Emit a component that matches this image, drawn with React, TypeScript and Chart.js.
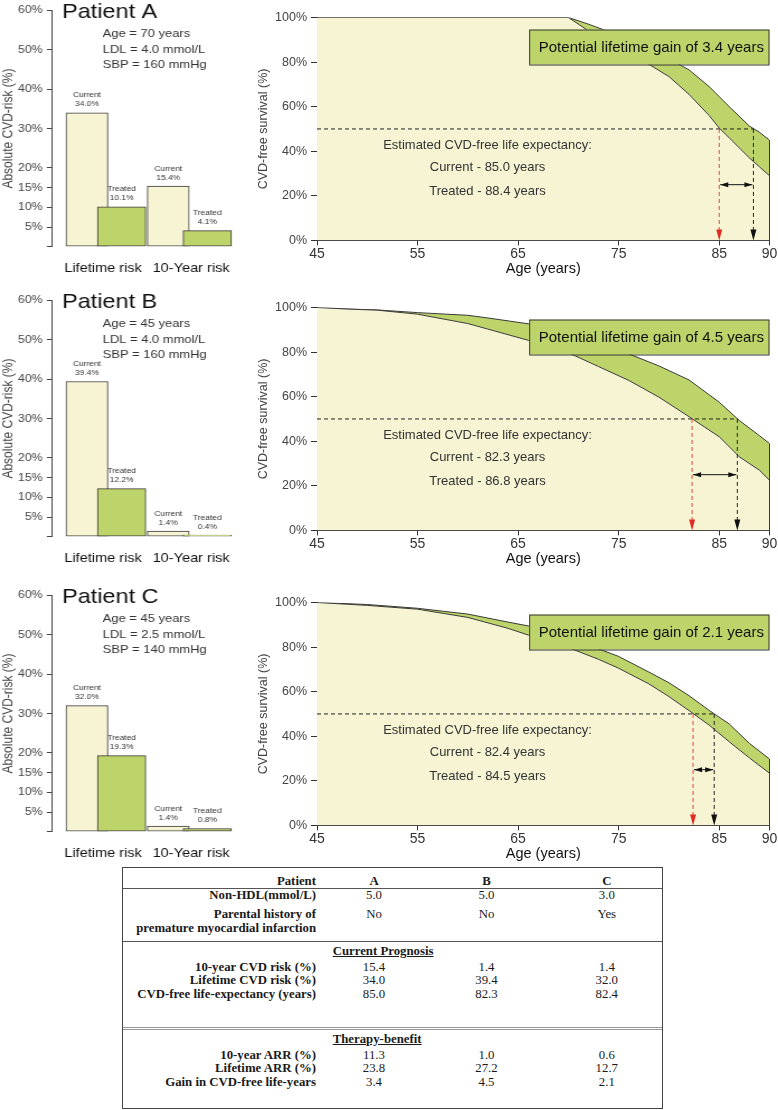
import React, { useEffect, useRef } from 'react';
import { Chart, registerables } from 'chart.js';

Chart.register(...registerables);

const FONT = '"Liberation Sans", Arial, Helvetica, sans-serif';
const SERIF = '"Liberation Serif", "Times New Roman", serif';
const CREAM = '#F7F4D4';
const GREEN = '#BCD46A';
const EDGE = '#3a3a3a';

// ---------- patient info ----------
const patientNames = ['A', 'B', 'C'];
const patientAge = [70, 45, 45];
const patientLDL = ['4.0', '4.0', '2.5'];
const patientSBP = [160, 160, 140];

// ---------- bar charts (absolute CVD risk, %) ----------
const riskCategories = ['Lifetime risk', '10-Year risk'];
const riskTicks = [0, 5, 10, 15, 20, 30, 40, 50, 60];
const currentRiskA = [34.0, 15.4];
const treatedRiskA = [10.1, 4.1];
const currentRiskB = [39.4, 1.4];
const treatedRiskB = [12.2, 0.4];
const currentRiskC = [32.0, 1.4];
const treatedRiskC = [19.3, 0.8];
const currentRisk = [currentRiskA, currentRiskB, currentRiskC];
const treatedRisk = [treatedRiskA, treatedRiskB, treatedRiskC];

// ---------- survival curves (CVD-free survival, %) ----------
const survTicksX = [45, 55, 65, 75, 85, 90];
const agesA = [45, 70, 72, 75, 78, 80, 82, 84, 85, 86, 88, 89, 90];
const currentSurvA = [100, 100, 94, 86.5, 79, 73.5, 65.5, 56, 50.4, 46, 37, 33, 29];
const treatedSurvA = [100, 100, 97, 92, 86, 81.5, 76.5, 69, 64.5, 60, 51.3, 48.5, 45];
const agesB = [45, 48, 51, 55, 60, 62, 66, 70, 73, 76, 79, 82, 85, 87, 89, 90];
const currentSurvB = [100, 99.3, 98.8, 97.0, 92.8, 90.3, 85.3, 79.7, 73.5, 67.3, 59.8, 51, 42, 33, 27, 22.5];
const treatedSurvB = [100, 99.3, 98.9, 97.7, 96.5, 95.3, 92.7, 88.5, 84, 79.2, 73.8, 67.5, 57.5, 49.3, 42.5, 39];
const agesC = [45, 50, 55, 60, 64, 66, 70, 73, 75, 78, 80, 82, 84, 86, 88, 90];
const currentSurvC = [100, 98.7, 97.0, 93.3, 88.4, 85.4, 79.8, 74.5, 70.5, 63.5, 57.8, 51.5, 45, 37.5, 30.3, 23.4];
const treatedSurvC = [100, 99.1, 97.4, 94.8, 91.2, 89.5, 84, 79.2, 75.8, 68.8, 64, 58.2, 51.6, 45.5, 36.8, 29.8];
const survAges = [agesA, agesB, agesC];
const survCurrent = [currentSurvA, currentSurvB, currentSurvC];
const survTreated = [treatedSurvA, treatedSurvB, treatedSurvC];
const expectCurrent = [85.0, 82.3, 82.4];
const expectTreated = [88.4, 86.8, 84.5];
const lifeGain = [3.4, 4.5, 2.1];

// ---------- table ----------
const nonHdl = ['5.0', '5.0', '3.0'];
const parentalHistory = ['No', 'No', 'Yes'];
const tenYearRisk = ['15.4', '1.4', '1.4'];
const lifetimeRisk = ['34.0', '39.4', '32.0'];
const cvdFreeLE = ['85.0', '82.3', '82.4'];
const tenYearARR = ['11.3', '1.0', '0.6'];
const lifetimeARR = ['23.8', '27.2', '12.7'];
const gainYears = ['3.4', '4.5', '2.1'];

const ROW_TOPS = [0, 290, 585];
const S = 1.12; // horizontal stretch of the bar panels

function RiskChart({ idx }: { idx: number }) {
  const ref = useRef<HTMLCanvasElement>(null);
  useEffect(() => {
    const cur = currentRisk[idx];
    const trt = treatedRisk[idx];
    const labelPlugin = {
      id: 'barLabels' + idx,
      afterDatasetsDraw(chart: any) {
        const ctx = chart.ctx;
        ctx.save();
        ctx.fillStyle = '#333';
        ctx.font = `7.5px ${FONT}`;
        ctx.textAlign = 'center';
        ctx.textBaseline = 'middle';
        chart.data.datasets.forEach((ds: any, di: number) => {
          const meta = chart.getDatasetMeta(di);
          meta.data.forEach((el: any, i: number) => {
            const v = ds.data[i].y;
            ctx.fillText(ds.label, el.x, el.y - 17.5);
            ctx.fillText(v.toFixed(1) + '%', el.x, el.y - 8.5);
          });
        });
        ctx.textAlign = 'left';
        ctx.textBaseline = 'alphabetic';
        ctx.fillStyle = '#111';
        ctx.font = `21px ${FONT}`;
        ctx.fillText('Patient ' + patientNames[idx], 55.4, 18);
        ctx.fillStyle = '#333';
        ctx.font = `11.6px ${FONT}`;
        ctx.fillText(`Age = ${patientAge[idx]} years`, 91.7, 37.3);
        ctx.fillText(`LDL = ${patientLDL[idx]} mmol/L`, 91.7, 53);
        ctx.fillText(`SBP = ${patientSBP[idx]} mmHg`, 91.7, 68.3);
        ctx.restore();
      },
    };
    const chart = new Chart(ref.current as HTMLCanvasElement, {
      type: 'bar',
      data: {
        datasets: [
          {
            label: 'Treated',
            data: trt.map((y, i) => ({ x: i, y })),
            xAxisID: 'xT',
            backgroundColor: GREEN,
            borderColor: EDGE,
            borderWidth: 1,
            borderSkipped: false,
            grouped: false,
            barThickness: 43.3,
            maxBarThickness: 43.3,
            order: 0,
          } as any,
          {
            label: 'Current',
            data: cur.map((y, i) => ({ x: i, y })),
            xAxisID: 'x',
            backgroundColor: CREAM,
            borderColor: EDGE,
            borderWidth: 1,
            borderSkipped: false,
            grouped: false,
            barThickness: 37.5,
            maxBarThickness: 37.5,
            order: 1,
          } as any,
        ],
      },
      options: {
        responsive: false,
        animation: false,
        devicePixelRatio: 1,
        events: [],
        layout: { padding: { top: 10, left: 0, right: 10.1, bottom: 0 } },
        plugins: { legend: { display: false }, tooltip: { enabled: false } },
        scales: {
          x: {
            type: 'linear',
            min: -0.4305,
            max: 1.8047,
            offset: false,
            grid: { display: false },
            border: { display: false },
            afterBuildTicks: (s: any) => {
              s.ticks = [{ value: 0.199 }, { value: 1.281 }];
            },
            ticks: {
              callback: (_v: any, i: number) => riskCategories[i],
              font: { family: FONT, size: 13 },
              color: '#111',
              padding: 5.5,
              maxRotation: 0,
              autoSkip: false,
            },
            afterFit: (s: any) => {
              s.height = 33.3;
            },
          } as any,
          xT: {
            type: 'linear',
            display: false,
            min: -0.8133,
            max: 1.3081,
            offset: false,
          } as any,
          y: {
            type: 'linear',
            min: 0,
            max: 60,
            afterBuildTicks: (s: any) => {
              s.ticks = riskTicks.map((v) => ({ value: v }));
            },
            ticks: {
              callback: (v: any) => (v === 0 ? '' : v + '%'),
              font: { family: FONT, size: 11 },
              color: '#444',
              padding: 3.8,
            },
            grid: { display: true, drawOnChartArea: false, tickLength: 4.5, color: '#444' },
            border: { display: true, color: '#444' },
            title: {
              display: true,
              text: 'Absolute CVD-risk (%)',
              font: { family: FONT, size: 12 },
              color: '#444',
              padding: { top: 0, bottom: 0 },
            },
            afterFit: (s: any) => {
              s.width = 46.4;
            },
          } as any,
        },
      },
      plugins: [labelPlugin],
    });
    return () => chart.destroy();
  }, [idx]);
  return (
    <canvas
      ref={ref}
      width={219}
      height={280}
      style={{ position: 'absolute', left: 0, top: ROW_TOPS[idx], width: 219 * S, height: 280 }}
    />
  );
}

function SurvivalChart({ idx }: { idx: number }) {
  const ref = useRef<HTMLCanvasElement>(null);
  useEffect(() => {
    const ages = survAges[idx];
    const cur = survCurrent[idx];
    const trt = survTreated[idx];
    const cAge = expectCurrent[idx];
    const tAge = expectTreated[idx];
    const annot = {
      id: 'survAnnot' + idx,
      afterDatasetsDraw(chart: any) {
        const ctx = chart.ctx;
        const xs = chart.scales.x;
        const ys = chart.scales.y;
        const px = (a: number) => xs.getPixelForValue(a);
        const py = (p: number) => ys.getPixelForValue(p);
        ctx.save();
        // polygon right edge
        ctx.strokeStyle = EDGE;
        ctx.lineWidth = 1;
        ctx.beginPath();
        ctx.moveTo(px(ages[ages.length - 1]), py(0));
        ctx.lineTo(px(ages[ages.length - 1]), py(trt[trt.length - 1]));
        ctx.stroke();
        // dashed guides
        ctx.setLineDash([4, 3]);
        ctx.strokeStyle = '#222';
        ctx.beginPath();
        ctx.moveTo(px(45), py(50));
        ctx.lineTo(px(tAge), py(50));
        ctx.moveTo(px(tAge), py(50));
        ctx.lineTo(px(tAge), py(0) - 10);
        ctx.stroke();
        ctx.strokeStyle = '#e0443c';
        ctx.beginPath();
        ctx.moveTo(px(cAge), py(50));
        ctx.lineTo(px(cAge), py(0) - 10);
        ctx.stroke();
        ctx.setLineDash([]);
        const down = (x: number, color: string) => {
          ctx.fillStyle = color;
          ctx.beginPath();
          ctx.moveTo(x, py(0));
          ctx.lineTo(x - 3, py(0) - 11);
          ctx.lineTo(x + 3, py(0) - 11);
          ctx.closePath();
          ctx.fill();
        };
        down(px(cAge), '#e32b22');
        down(px(tAge), '#111');
        // double arrow
        const ay = py(25);
        const x0 = px(cAge) + 1;
        const x1 = px(tAge) - 1;
        ctx.strokeStyle = '#111';
        ctx.fillStyle = '#111';
        ctx.beginPath();
        ctx.moveTo(x0, ay);
        ctx.lineTo(x1, ay);
        ctx.stroke();
        const head = Math.min(8, (x1 - x0) / 2);
        ctx.beginPath();
        ctx.moveTo(x0, ay);
        ctx.lineTo(x0 + head, ay - 2.5);
        ctx.lineTo(x0 + head, ay + 2.5);
        ctx.closePath();
        ctx.fill();
        ctx.beginPath();
        ctx.moveTo(x1, ay);
        ctx.lineTo(x1 - head, ay - 2.5);
        ctx.lineTo(x1 - head, ay + 2.5);
        ctx.closePath();
        ctx.fill();
        // gain box
        const bx0 = px(66.1);
        const bx1 = px(90);
        const by0 = py(94.6);
        const by1 = py(78.9);
        ctx.fillStyle = GREEN;
        ctx.fillRect(bx0, by0, bx1 - bx0, by1 - by0);
        ctx.strokeStyle = EDGE;
        ctx.strokeRect(bx0 + 0.5, by0 + 0.5, bx1 - bx0 - 1, by1 - by0);
        ctx.fillStyle = '#111';
        ctx.font = `15px ${FONT}`;
        ctx.textAlign = 'center';
        ctx.textBaseline = 'middle';
        ctx.fillText(`Potential lifetime gain of ${lifeGain[idx].toFixed(1)} years`, (bx0 + bx1) / 2 + 2, (by0 + by1) / 2 + 1);
        // life expectancy text
        ctx.fillStyle = '#333';
        ctx.font = `13px ${FONT}`;
        const tx = px(61.96);
        ctx.fillText('Estimated CVD-free life expectancy:', tx, py(42.4));
        ctx.fillText(`Current - ${cAge.toFixed(1)} years`, tx, py(32.7));
        ctx.fillText(`Treated - ${tAge.toFixed(1)} years`, tx, py(22.0));
        ctx.restore();
      },
    };
    const chart = new Chart(ref.current as HTMLCanvasElement, {
      type: 'line',
      data: {
        datasets: [
          {
            label: 'Current',
            data: ages.map((x, i) => ({ x, y: cur[i] })),
            fill: 'origin',
            backgroundColor: CREAM,
            borderColor: EDGE,
            borderWidth: 1,
            pointRadius: 0,
            tension: 0,
          },
          {
            label: 'Treated',
            data: ages.map((x, i) => ({ x, y: trt[i] })),
            fill: '-1',
            backgroundColor: GREEN,
            borderColor: EDGE,
            borderWidth: 1,
            pointRadius: 0,
            tension: 0,
          },
        ],
      },
      options: {
        responsive: false,
        animation: false,
        devicePixelRatio: 1,
        events: [],
        layout: { padding: { top: 17.5, left: 0, right: 8.5, bottom: 0 } },
        plugins: { legend: { display: false }, tooltip: { enabled: false } },
        scales: {
          x: {
            type: 'linear',
            min: 45,
            max: 90,
            afterBuildTicks: (s: any) => {
              s.ticks = survTicksX.map((v) => ({ value: v }));
            },
            ticks: {
              font: { family: FONT, size: 14 },
              color: '#333',
              padding: 0,
              maxRotation: 0,
              autoSkip: false,
            },
            grid: { display: true, drawOnChartArea: false, tickLength: 5, color: '#333' },
            border: { display: true, color: '#333' },
            title: {
              display: true,
              text: 'Age (years)',
              font: { family: FONT, size: 14.5 },
              color: '#111',
              padding: { top: 0, bottom: 1.9 },
            },
            afterFit: (s: any) => {
              s.height = 39.6;
            },
          } as any,
          y: {
            type: 'linear',
            min: 0,
            max: 100,
            ticks: {
              stepSize: 20,
              callback: (v: any) => v + '%',
              font: { family: FONT, size: 12.5 },
              color: '#444',
              padding: 4,
            },
            grid: { display: true, drawOnChartArea: false, tickLength: 6, color: '#333' },
            border: { display: true, color: '#333' },
            title: {
              display: true,
              text: 'CVD-free survival (%)',
              font: { family: FONT, size: 12.5 },
              color: '#444',
              padding: { top: 8.5, bottom: 0 },
            },
            afterFit: (s: any) => {
              s.width = 69;
            },
          } as any,
        },
      },
      plugins: [annot],
    });
    return () => chart.destroy();
  }, [idx]);
  return (
    <canvas
      ref={ref}
      width={530}
      height={280}
      style={{ position: 'absolute', left: 248, top: ROW_TOPS[idx], width: 530, height: 280 }}
    />
  );
}

const COL_X = [251, 363.5, 483.8];

function TRow({ y, label, values, bold }: { y: number; label: string; values?: string[]; bold?: boolean }) {
  return (
    <>
      <div
        style={{
          position: 'absolute',
          left: 0,
          width: 193,
          top: y - 7,
          height: 14,
          lineHeight: '14px',
          textAlign: 'right',
          fontWeight: 'bold',
          whiteSpace: 'nowrap',
          display: 'flex',
          justifyContent: 'flex-end',
        }}
      >
        {label}
      </div>
      {values &&
        values.map((v, i) => (
          <div
            key={i}
            style={{
              position: 'absolute',
              left: COL_X[i] - 40,
              width: 80,
              top: y - 7,
              height: 14,
              lineHeight: '14px',
              textAlign: 'center',
              fontWeight: bold ? 'bold' : 'normal',
            }}
          >
            {v}
          </div>
        ))}
    </>
  );
}

function SectionTitle({ y, text }: { y: number; text: string }) {
  return (
    <div
      style={{
        position: 'absolute',
        left: 209.7,
        top: y - 7,
        height: 14,
        lineHeight: '14px',
        fontWeight: 'bold',
        textDecoration: 'underline',
        whiteSpace: 'nowrap',
      }}
    >
      {text}
    </div>
  );
}

function SummaryTable() {
  return (
    <div
      style={{
        position: 'absolute',
        left: 122,
        top: 867,
        width: 541,
        height: 242,
        border: '1px solid #444',
        boxSizing: 'border-box',
        fontFamily: SERIF,
        fontSize: 12.8,
        color: '#1a1a1a',
        background: '#fff',
      }}
    >
      <TRow y={13.3} label="Patient" values={patientNames} bold />
      <div style={{ position: 'absolute', left: 0, right: 0, top: 20, borderTop: '1px solid #555' }} />
      <TRow y={27.3} label="Non-HDL(mmol/L)" values={nonHdl} />
      <TRow y={45.7} label="Parental history of" values={parentalHistory} />
      <TRow y={59.7} label="premature myocardial infarction" />
      <div style={{ position: 'absolute', left: 0, right: 0, top: 73, borderTop: '1px solid #555' }} />
      <SectionTitle y={83.3} text="Current Prognosis" />
      <TRow y={99} label="10-year CVD risk (%)" values={tenYearRisk} />
      <TRow y={112.3} label="Lifetime CVD risk (%)" values={lifetimeRisk} />
      <TRow y={125.7} label="CVD-free life-expectancy (years)" values={cvdFreeLE} />
      <div style={{ position: 'absolute', left: 0, right: 0, top: 159, borderTop: '3px double #999' }} />
      <SectionTitle y={170.7} text="Therapy-benefit" />
      <TRow y={186.7} label="10-year ARR (%)" values={tenYearARR} />
      <TRow y={200} label="Lifetime ARR (%)" values={lifetimeARR} />
      <TRow y={214} label="Gain in CVD-free life-years" values={gainYears} />
    </div>
  );
}

export default function App() {
  return (
    <div style={{ position: 'absolute', left: 0, top: 0, width: 778, height: 1110, background: '#fff', overflow: 'hidden' }}>
      {[0, 1, 2].map((i) => (
        <React.Fragment key={i}>
          <RiskChart idx={i} />
          <SurvivalChart idx={i} />
        </React.Fragment>
      ))}
      <SummaryTable />
    </div>
  );
}
